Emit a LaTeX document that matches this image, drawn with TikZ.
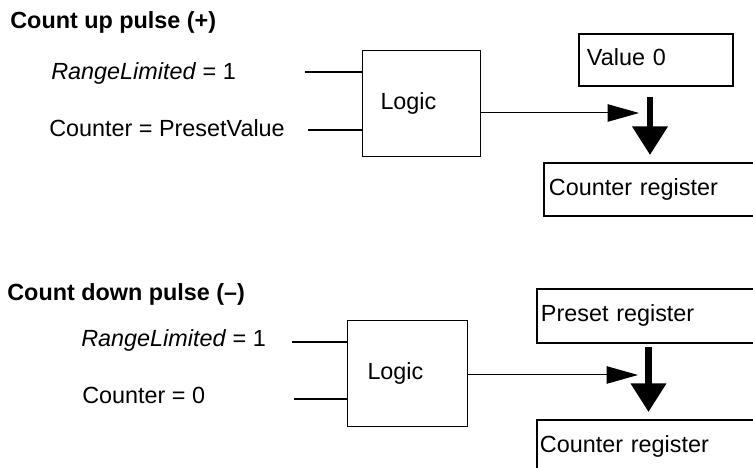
\documentclass[tikz,border=0pt]{standalone}
\usepackage{fontspec}
\setmainfont{Liberation Sans}
\usetikzlibrary{arrows.meta}

\begin{document}
\begin{tikzpicture}[every node/.style={font=\fontsize{13.3}{16}\selectfont}]
  \tikzset{lbl/.style={anchor=base west,inner sep=0pt},
    bx/.style={draw,anchor=north west,align=left,inner ysep=0pt,execute at begin node=\strut},
    lgc/.style={bx,line width=0.57pt,minimum height=2.12cm},
    reg/.style={bx,line width=1.13pt},
    inl/.style={line width=0.95pt},
    arr/.style={line width=0.57pt,-{Triangle[length=0.63cm,width=0.35cm]}},
    big/.style={line width=3.8pt,-{Triangle[length=0.57cm,width=0.68cm]}}}
  \clip (0,0) rectangle (15.06,9.36);
  \node[lbl] (t1) at (0.20,8.78) {\textbf{Count up pulse (+)}};
  \node[lbl] (r1) at (1.02,7.76) {\textit{RangeLimited} = 1};
  \node[lbl] (c1) at (0.98,6.62) {Counter = PresetValue};
  \node[lgc,inner xsep=0.36cm,text width=1.64cm] (lg1) at (7.24,8.36) {Logic};
  \node[reg,inner xsep=0.16cm,text width=2.76cm,minimum height=1.04cm] (v0) at (11.56,8.70) {Value 0};
  \node[reg,inner xsep=0.10cm,text width=4.54cm,minimum height=1.06cm] (cr1) at (10.86,6.12) {Counter register};
  \coordinate (a1) at (6.10,7.92);
  \coordinate (a2) at (6.16,6.76);
  \coordinate (m1) at (13.00,7.10);
  \draw[inl] (a1) -- (a1 -| lg1.west);
  \draw[inl] (a2) -- (a2 -| lg1.west);
  \draw[arr,shorten >=0.22cm] (lg1.east |- m1) -- (m1);
  \draw[big,shorten <=0.2cm,shorten >=0.14cm] (v0.south -| m1) -- (cr1.north -| m1);
  \node[lbl] (t2) at (0.14,3.34) {\textbf{Count down pulse (\textendash)}};
  \node[lbl] (r2) at (1.62,2.42) {\textit{RangeLimited} = 1};
  \node[lbl] (c2) at (1.64,1.28) {Counter = 0};
  \node[lgc,inner xsep=0.40cm,text width=1.60cm] (lg2) at (6.94,2.96) {Logic};
  \node[reg,inner xsep=0.08cm,text width=4.72cm,minimum height=1.08cm] (pr) at (10.72,3.60) {Preset register};
  \node[reg,inner xsep=0.06cm,text width=4.76cm,minimum height=1.06cm] (cr2) at (10.72,0.98) {Counter register};
  \coordinate (b1) at (5.84,2.52);
  \coordinate (b2) at (5.88,1.38);
  \coordinate (m2) at (12.97,1.86);
  \draw[inl] (b1) -- (b1 -| lg2.west);
  \draw[inl] (b2) -- (b2 -| lg2.west);
  \draw[arr,shorten >=0.21cm] (lg2.east |- m2) -- (m2);
  \draw[big,shorten <=0.06cm,shorten >=0.14cm] (pr.south -| m2) -- (cr2.north -| m2);
\end{tikzpicture}
\end{document}
